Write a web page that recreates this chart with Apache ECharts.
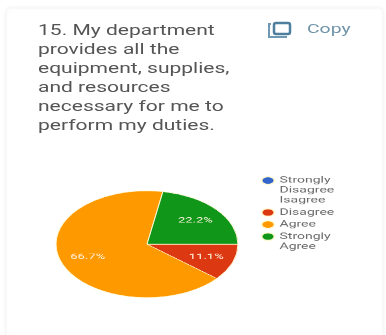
<!DOCTYPE html>
<html>
<head>
<meta charset="utf-8">
<style>
  html, body { margin: 0; padding: 0; background: #fff; }
  #stage { position: relative; width: 386px; height: 335px; overflow: hidden; }
  #header { position: absolute; left: 0; top: 0; width: 386px; height: 335px; }
  /* The pie panel is compressed vertically, so its circle, markers and text become flat */
  #pie { position: absolute; left: 0; top: 0; width: 386px; height: 571px;
         transform: scaleY(0.587); transform-origin: 0 0; }
</style>
<script src="https://cdn.jsdelivr.net/npm/echarts@6/dist/echarts.min.js"></script>
</head>
<body>
<div id="stage">
  <div id="header"></div>
  <div id="pie"></div>
</div>
<script>
const questionLines = [
  '15. My department',
  'provides all the',
  'equipment, supplies,',
  'and resources',
  'necessary for me to',
  'perform my duties.'
];
const copyLabel = 'Copy';
const categories = ['Strongly\nDisagree\nIsagree', 'Disagree', 'Agree', 'Strongly\nAgree'];
const percentages = [0, 11.1, 66.7, 22.2];
const sliceColors = ['#3366cc', '#dc3912', '#ff9900', '#109618'];

const LEGEND_LINE = 17;
const LEGEND_GAP = 3.5;
const LEGEND_TOP = 298;

const header = echarts.init(document.getElementById('header'));
header.setOption({
  animation: false,
  graphic: [
    { type: 'rect', silent: true, z: 0,
      shape: { x: 6, y: 8, width: 377, height: 340, r: 4 },
      style: { fill: '#ffffff', stroke: '#f6f6f6', lineWidth: 1,
               shadowBlur: 5, shadowColor: 'rgba(0,0,0,0.06)' } },
    { type: 'text', z: 1, x: 38, y: 22, scaleX: 1.45,
      style: { text: questionLines.join('\n'), fill: '#555555',
               font: '14.5px Roboto', lineHeight: 18.9 } },
    { type: 'text', z: 1, x: 307, y: 23, scaleX: 1.55,
      style: { text: copyLabel, fill: '#6f93a8', font: '12.5px Roboto' } },
    // Copy icon: a back sheet and a front sheet
    { type: 'polyline', z: 1,
      shape: { points: [[271, 24], [269, 24], [269, 37], [287, 37]] },
      style: { stroke: '#6f98b4', lineWidth: 2, fill: null } },
    { type: 'rect', z: 1,
      shape: { x: 274, y: 23, width: 16, height: 11, r: 2 },
      style: { stroke: '#4f7f9f', lineWidth: 2.5, fill: '#ffffff' } }
  ]
});

// One legend per category: the marker path is as tall as the entry's text,
// with its dot on the first line, so multi-line names hang below the marker.
function markerPath(height) {
  const mid = LEGEND_LINE / 2;
  return `path://M0,${mid}a6.5,6.5 0 1,0 13,0a6.5,6.5 0 1,0 -13,0ZM0,0L0,0M0,${height}L0,${height}`;
}
let legendTop = LEGEND_TOP;
const legends = categories.map(name => {
  const height = name.split('\n').length * LEGEND_LINE;
  const legend = {
    orient: 'vertical', left: 260.5, top: legendTop, padding: 0,
    icon: markerPath(height), symbolKeepAspect: false,
    itemWidth: 13, itemHeight: height,
    data: [name],
    textStyle: { color: '#6a6a6a', fontFamily: 'Roboto', fontSize: 14, lineHeight: LEGEND_LINE },
    selectedMode: false
  };
  legendTop += height + LEGEND_GAP;
  return legend;
});

const pie = echarts.init(document.getElementById('pie'));
pie.setOption({
  animation: false,
  legend: legends,
  series: [{
    type: 'pie',
    center: [147, 416],
    radius: [0, 91],
    startAngle: 0,
    color: sliceColors,
    data: categories.map((name, i) => ({ name, value: percentages[i] })),
    minShowLabelAngle: 1,
    label: {
      position: 'inside', color: '#fff3e0', fontFamily: 'Roboto', fontSize: 13,
      formatter: p => p.value.toFixed(1) + '%'
    },
    labelLine: { show: false },
    // Push the labels outward from the centre to about two thirds of the radius
    labelLayout: p => ({
      dx: (p.labelRect.x + p.labelRect.width / 2 - 147) * 0.3,
      dy: (p.labelRect.y + p.labelRect.height / 2 - 416) * 0.3
    }),
    itemStyle: { borderColor: '#fff8d0', borderWidth: 1 },
    emphasis: { disabled: true }
  }]
});
</script>
</body>
</html>
